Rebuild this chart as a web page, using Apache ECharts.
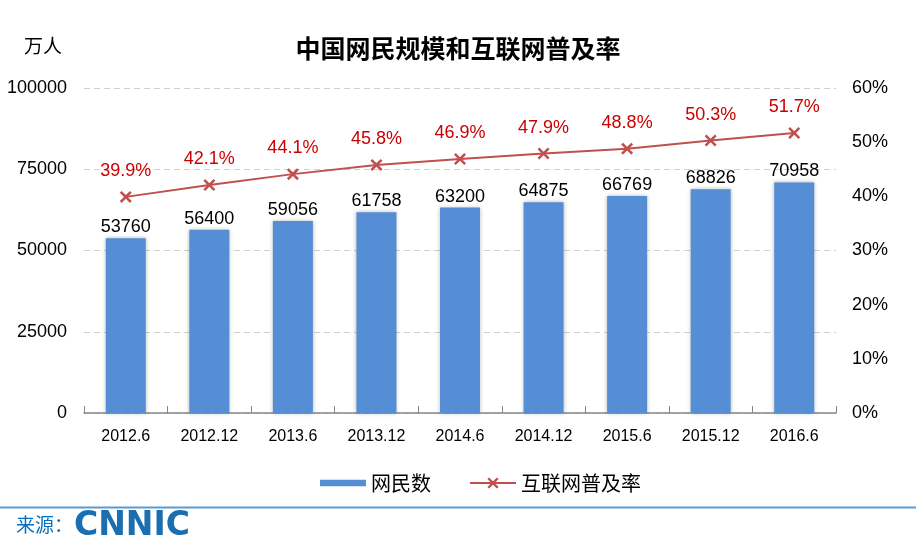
<!DOCTYPE html>
<html>
<head>
<meta charset="utf-8">
<script src="https://cdn.jsdelivr.net/npm/echarts@6/dist/echarts.min.js"></script>
<style>
html,body{margin:0;padding:0;background:#fff;}
#main{width:916px;height:554px;}
</style>
</head>
<body>
<div id="main"></div>
<script>
var categories = ['2012.6','2012.12','2013.6','2013.12','2014.6','2014.12','2015.6','2015.12','2016.6'];
var netizens = [53760, 56400, 59056, 61758, 63200, 64875, 66769, 68826, 70958];
var penetration = [39.9, 42.1, 44.1, 45.8, 46.9, 47.9, 48.8, 50.3, 51.7];
var leftTicks = {min: 0, max: 100000, interval: 25000};
var rightTicks = {min: 0, max: 60, interval: 10};

var FONT = 'Liberation Sans, Arial, Noto Sans CJK SC, sans-serif';
var CJK = 'Noto Sans CJK SC, sans-serif';
var xSymbol = 'path://M1.5,0 L5,3.5 L8.5,0 L10,1.5 L6.5,5 L10,8.5 L8.5,10 L5,6.5 L1.5,10 L0,8.5 L3.5,5 L0,1.5 Z';

var chart = echarts.init(document.getElementById('main'), null, {renderer: 'canvas'});
chart.setOption({
  backgroundColor: '#ffffff',
  animation: false,
  title: {
    text: '中国网民规模和互联网普及率',
    left: 'center',
    top: 31,
    textStyle: {fontFamily: CJK, fontSize: 25, fontWeight: 'bold', color: '#000'}
  },
  grid: {left: 84, right: 80, top: 88, bottom: 141},
  legend: {
    bottom: 56,
    left: 315,
    itemGap: 38,
    itemWidth: 46,
    itemHeight: 14,
    textStyle: {fontFamily: CJK, fontSize: 20, color: '#000'},
    data: [
      {name: '网民数', icon: 'path://M0,0 h43 v6 h-43 Z'},
      {name: '互联网普及率'}
    ]
  },
  xAxis: {
    type: 'category',
    data: categories,
    axisLine: {lineStyle: {color: '#868686', width: 1.5}},
    axisTick: {show: true, inside: true, length: 7, alignWithLabel: false, lineStyle: {color: '#868686'}},
    axisLabel: {fontFamily: FONT, fontSize: 16, color: '#000', margin: 16}
  },
  yAxis: [
    {
      type: 'value',
      min: leftTicks.min, max: leftTicks.max, interval: leftTicks.interval,
      axisLine: {show: false},
      axisTick: {show: false},
      axisLabel: {fontFamily: FONT, fontSize: 18, color: '#000', margin: 17,
        formatter: function (v) { return String(v); }},
      splitLine: {show: true, lineStyle: {color: '#d0d0d0', type: [6, 4], width: 1}}
    },
    {
      type: 'value',
      min: rightTicks.min, max: rightTicks.max, interval: rightTicks.interval,
      axisLine: {show: false},
      axisTick: {show: false},
      splitLine: {show: false},
      axisLabel: {fontFamily: FONT, fontSize: 18, color: '#000', margin: 16, formatter: '{value}%'}
    }
  ],
  series: [
    {
      name: '网民数',
      type: 'bar',
      data: netizens,
      barWidth: 40,
      itemStyle: {color: '#558ed5', shadowColor: 'rgba(0,0,0,0.28)', shadowBlur: 4, shadowOffsetX: 0, shadowOffsetY: 0},
      label: {show: true, position: 'top', distance: 2, fontFamily: FONT, fontSize: 18, color: '#000',
        formatter: function (p) { return String(p.value); }}
    },
    {
      name: '互联网普及率',
      type: 'line',
      yAxisIndex: 1,
      data: penetration,
      symbol: xSymbol,
      symbolSize: 12,
      lineStyle: {color: '#c0504d', width: 2},
      itemStyle: {color: '#c0504d'},
      label: {show: true, position: 'top', distance: 11, fontFamily: FONT, fontSize: 18, color: '#cc0000',
        formatter: function (p) { return p.value.toFixed(1) + '%'; }}
    }
  ],
  graphic: [
    {type: 'text', left: 24, top: 36, style: {text: '万人', fontFamily: CJK, fontSize: 19, fill: '#000'}},
    {type: 'line', shape: {x1: 0, y1: 507.5, x2: 916, y2: 507.5}, style: {stroke: '#5b9bd5', lineWidth: 2}},
    {type: 'text', left: 16, top: 515, style: {text: '来源：', fontFamily: CJK, fontSize: 19, fill: '#0070c0'}},
    {type: 'text', left: 74, top: 510, style: {text: 'CNNIC', fontFamily: 'DejaVu Sans, sans-serif', fontWeight: 'bold', fontSize: 33, fill: '#1b6eaf'}}
  ]
});
</script>
</body>
</html>
